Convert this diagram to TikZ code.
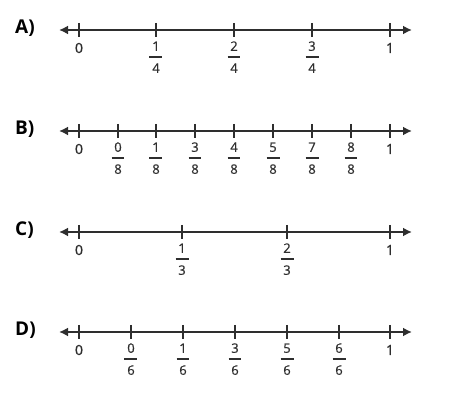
\documentclass[tikz,border=0pt]{standalone}
\usepackage{fontspec}
\setmainfont{Open Sans}
\newfontfamily\numfont{Open Sans}[FakeBold=0.7]
\usetikzlibrary{arrows.meta}

\definecolor{linegray}{HTML}{2E2E2E}
\newcommand{\fracLabel}[2]{\begin{tabular}{@{}c@{}}#1\\[-5pt]\rule[4.2pt]{13pt}{1.5pt}\\[-5pt]#2\end{tabular}}

\begin{document}
\begin{tikzpicture}[x=1pt,y=-1pt,
    numline/.style={line width=2pt, draw=linegray,
        {Latex[length=9pt,width=9pt]}-{Latex[length=9pt,width=9pt]}},
    tickmark/.style={line width=1.1pt, draw=linegray},
    intlabel/.style={text=linegray, inner sep=0pt, font=\numfont\fontsize{14}{16}\selectfont},
    fraclabel/.style={text=linegray, inner sep=0pt, font=\numfont\fontsize{13}{16}\selectfont},
    rowlabel/.style={anchor=base west, inner sep=0pt, font=\bfseries\fontsize{19}{21}\selectfont}]
    \useasboundingbox (0,0) rectangle (451,406);

    % A) quarters
    \begin{scope}[shift={(0,30)}]
    \node[rowlabel] (RowA) at (15,3.5) {A)};
    \coordinate (AMin) at (59,0);
    \coordinate (AMax) at (412,0);
    \draw[numline] (AMin) -- (AMax);
    \foreach \x in {79,156,234,312,390}{% one tick per mark
      \draw[tickmark] (\x,-7) -- (\x,7);
    }
    \node[intlabel] (AZero) at (79,18) {0};
    \node[intlabel] (AOne) at (390,18) {1};
    \foreach \x/\n [count=\i] in {156/1,234/2,312/3}{
      \node[fraclabel] (AFrac\i) at (\x,28.6) {\fracLabel{\n}{4}};
    }
    \end{scope}

    % B) eighths
    \begin{scope}[shift={(0,131)}]
    \node[rowlabel] (RowB) at (15,3.5) {B)};
    \coordinate (BMin) at (59,0);
    \coordinate (BMax) at (412,0);
    \draw[numline] (BMin) -- (BMax);
    \foreach \x in {79,118,156,195,234,273,312,351,390}{
      \draw[tickmark] (\x,-7) -- (\x,7);
    }
    \node[intlabel] (BZero) at (79,18) {0};
    \node[intlabel] (BOne) at (390,18) {1};
    \foreach \x/\n [count=\i] in {118/0,156/1,195/3,234/4,273/5,312/7,351/8}{
      \node[fraclabel] (BFrac\i) at (\x,28.6) {\fracLabel{\n}{8}};
    }
    \end{scope}

    % C) thirds
    \begin{scope}[shift={(0,232)}]
    \node[rowlabel] (RowC) at (15,3.5) {C)};
    \coordinate (CMin) at (59,0);
    \coordinate (CMax) at (412,0);
    \draw[numline] (CMin) -- (CMax);
    \foreach \x in {79,182,287,390}{
      \draw[tickmark] (\x,-7) -- (\x,7);
    }
    \node[intlabel] (CZero) at (79,18) {0};
    \node[intlabel] (COne) at (390,18) {1};
    \foreach \x/\n [count=\i] in {182/1,287/2}{
      \node[fraclabel] (CFrac\i) at (\x,28.6) {\fracLabel{\n}{3}};
    }
    \end{scope}

    % D) sixths
    \begin{scope}[shift={(0,332)}]
    \node[rowlabel] (RowD) at (15,3.5) {D)};
    \coordinate (DMin) at (59,0);
    \coordinate (DMax) at (412,0);
    \draw[numline] (DMin) -- (DMax);
    \foreach \x in {79,131,183,235,287,339,390}{
      \draw[tickmark] (\x,-7) -- (\x,7);
    }
    \node[intlabel] (DZero) at (79,18) {0};
    \node[intlabel] (DOne) at (390,18) {1};
    \foreach \x/\n [count=\i] in {131/0,183/1,235/3,287/5,339/6}{
      \node[fraclabel] (DFrac\i) at (\x,28.6) {\fracLabel{\n}{6}};
    }
    \end{scope}
\end{tikzpicture}
\end{document}
